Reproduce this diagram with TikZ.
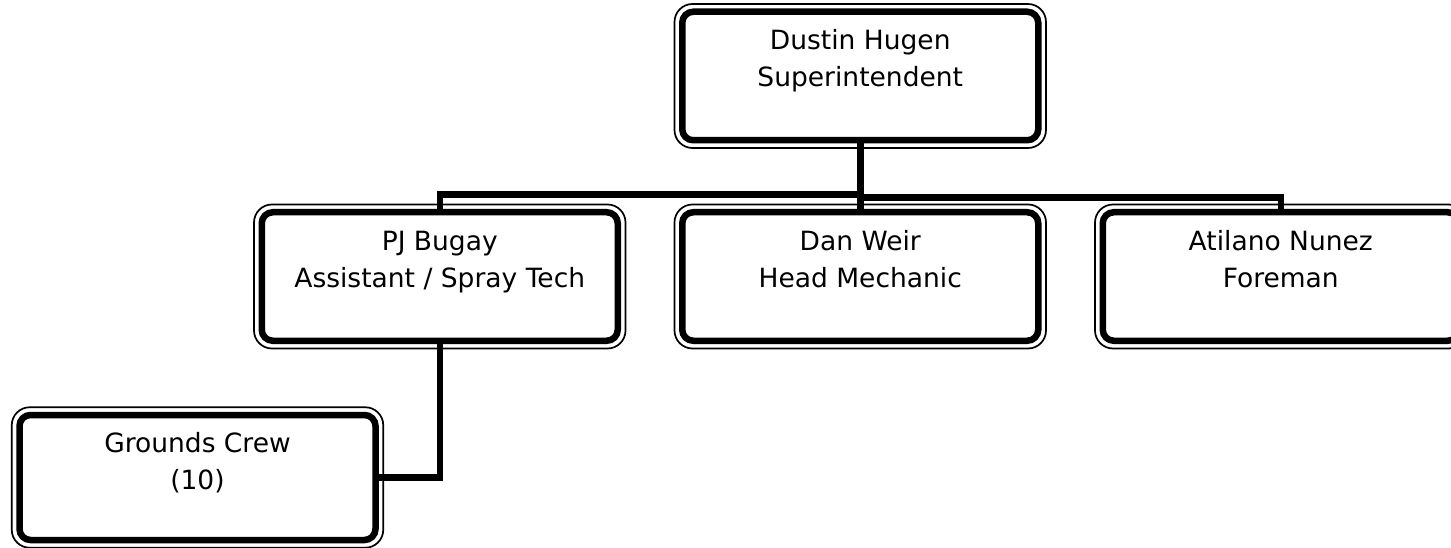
\documentclass[tikz,border=0pt]{standalone}
\usepackage{fontspec}
\setmainfont{DejaVu Sans}
\tikzset{
  orgbox/.style={draw, line width=6.5pt, rounded corners=11pt, outer sep=0pt, inner sep=0pt,
    minimum width=356pt, minimum height=128.5pt, align=center,
    font=\fontsize{26.5}{37}\selectfont, text height=57pt, text depth=35pt},
  outerline/.style={line width=1.7pt, rounded corners=18pt},
  conn/.style={line width=6.5pt},
}
\begin{document}
\begin{tikzpicture}[x=1pt,y=-1pt]
\useasboundingbox (0,0) rectangle (1451,548);
\clip (0,0) rectangle (1451,548);
\node[orgbox] (top) at (860.25,76)   {Dustin Hugen\\Superintendent};
\node[orgbox] (pj)  at (439.75,276.5) {PJ Bugay\\Assistant / Spray Tech};
\node[orgbox] (dan) at (860.25,276.5) {Dan Weir\\Head Mechanic};
\node[orgbox] (ati) at (1280.75,276.5) {Atilano Nunez\\Foreman};
\node[orgbox, minimum height=125pt, text depth=33pt] (grd) at (197.5,477.5) {Grounds Crew\\(10)};
\foreach \n in {top,pj,dan,ati,grd}{
  \draw[outerline] ([shift={(-7.75pt,7.75pt)}]\n.north west) rectangle ([shift={(7.75pt,-7.75pt)}]\n.south east);
}
\coordinate (busL) at (860.25,194.5);
\coordinate (busR) at (860.25,197.5);
\draw[conn] (top.south) -- (dan.north);
\draw[conn] (busL) -| (pj.north);
\draw[conn] (busR) -| (ati.north);
\draw[conn] (pj.south) |- (grd.east);
\end{tikzpicture}
\end{document}
